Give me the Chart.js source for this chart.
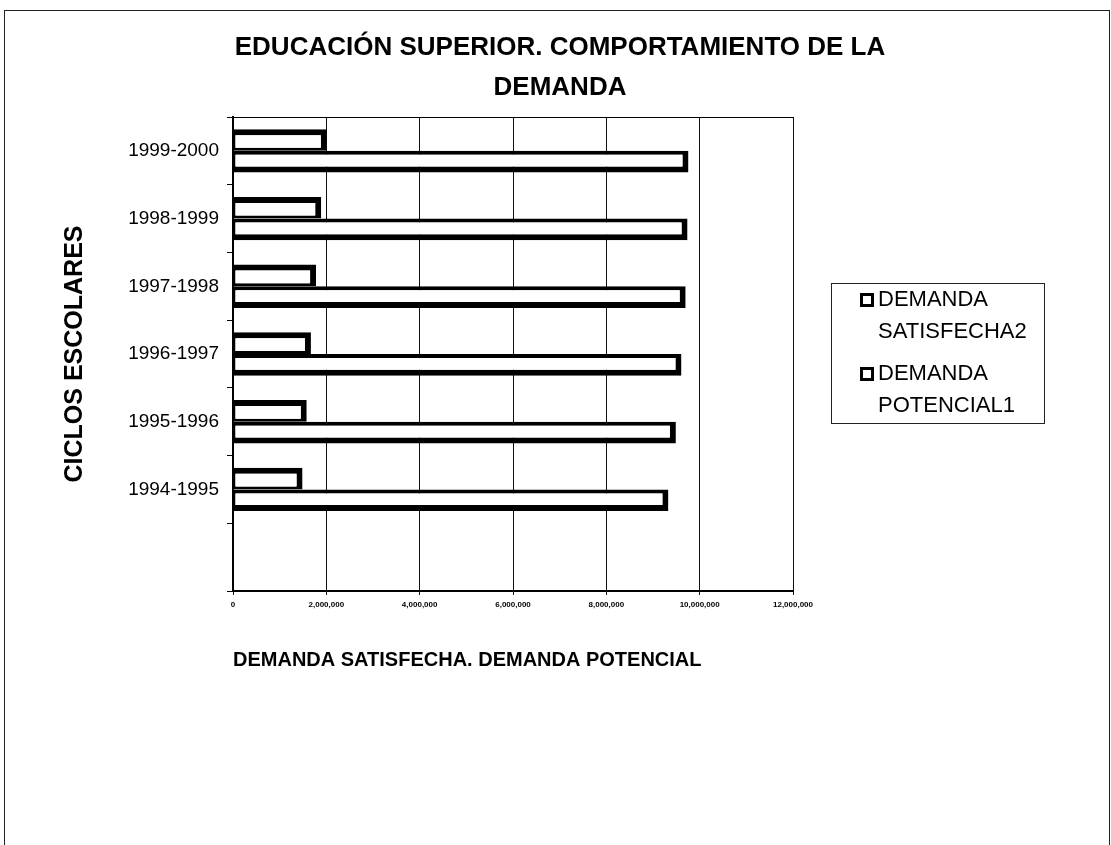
<!DOCTYPE html>
<html>
<head>
<meta charset="utf-8">
<title>Educación superior. Comportamiento de la demanda</title>
<script src="https://cdn.jsdelivr.net/npm/chart.js@4.4.1/dist/chart.umd.min.js"></script>
<style>
  html, body { margin: 0; padding: 0; background: #fff; }
  #wrap { position: relative; width: 1111px; height: 845px; overflow: hidden; }
  #frame {
    position: absolute; left: 4px; top: 10px; width: 1104px; height: 900px;
    border: 1px solid #222; border-bottom: none; pointer-events: none;
  }
  canvas { position: absolute; left: 0; top: 0; }
</style>
</head>
<body>
<div id="wrap">
  <canvas id="chart" width="1111" height="845"></canvas>
  <div id="frame"></div>
</div>
<script>
// values
const ciclos = ['1999-2000', '1998-1999', '1997-1998', '1996-1997', '1995-1996', '1994-1995', ''];
const demandaSatisfecha = [2010000, 1890000, 1780000, 1670000, 1580000, 1490000, null];
const demandaPotencial = [9760000, 9740000, 9700000, 9610000, 9490000, 9330000, null];
const xMax = 12000000;
const xStep = 2000000;

const titleLines = ['EDUCACIÓN SUPERIOR. COMPORTAMIENTO DE LA', 'DEMANDA'];
const legendLines = [['DEMANDA', 'SATISFECHA2'], ['DEMANDA', 'POTENCIAL1']];

const FONT = '"Liberation Sans", Arial, sans-serif';

// title and boxed legend, drawn as in the old spreadsheet chart
const sheetText = {
  id: 'sheetText',
  afterDraw(chart) {
    const ctx = chart.ctx;
    ctx.save();
    ctx.fillStyle = '#000';
    ctx.textBaseline = 'middle';

    ctx.font = 'bold 26px ' + FONT;
    ctx.textAlign = 'center';
    titleLines.forEach((t, i) => ctx.fillText(t, 560, 48 + i * 40));

    // legend box
    ctx.strokeStyle = '#222';
    ctx.lineWidth = 1;
    ctx.strokeRect(831.5, 283.5, 213, 140);
    ctx.font = '22px ' + FONT;
    ctx.textAlign = 'left';
    legendLines.forEach((lines, i) => {
      const y = 300 + i * 74;
      ctx.fillStyle = '#000';
      ctx.fillRect(860, y - 7, 14, 14);
      ctx.fillStyle = '#fff';
      ctx.fillRect(863, y - 4, 8, 8);
      ctx.fillStyle = '#000';
      lines.forEach((l, j) => ctx.fillText(l, 878, y + j * 32));
    });
    ctx.restore();
  }
};

new Chart(document.getElementById('chart'), {
  type: 'bar',
  data: {
    labels: ciclos,
    datasets: [
      {
        label: 'DEMANDA SATISFECHA2',
        data: demandaSatisfecha,
        backgroundColor: '#fff',
        borderColor: '#000',
        borderWidth: { top: 6, right: 6, bottom: 3, left: 2 },
        borderSkipped: false
      },
      {
        label: 'DEMANDA POTENCIAL1',
        data: demandaPotencial,
        backgroundColor: '#fff',
        borderColor: '#000',
        borderWidth: { top: 4, right: 6, bottom: 6, left: 2 },
        borderSkipped: false
      }
    ]
  },
  options: {
    indexAxis: 'y',
    responsive: false,
    animation: false,
    categoryPercentage: 0.64,
    barPercentage: 1,
    layout: { padding: { left: 55, right: 318, top: 117, bottom: 164 } },
    plugins: {
      legend: { display: false },
      title: { display: false },
      tooltip: { enabled: false }
    },
    scales: {
      x: {
        min: 0,
        max: xMax,
        afterFit: s => { s.height = 90; },
        ticks: {
          stepSize: xStep,
          padding: 5,
          color: '#000',
          font: { family: FONT, size: 8, weight: 'bold' },
          maxRotation: 0,
          callback: v => v.toLocaleString('en-US')
        },
        grid: { color: '#111', lineWidth: 1, tickLength: 4 },
        border: { color: '#000', width: 2 },
        title: {
          display: true,
          text: 'DEMANDA SATISFECHA. DEMANDA POTENCIAL',
          align: 'start',
          color: '#000',
          font: { family: FONT, size: 20, weight: 'bold' },
          padding: { top: 0, bottom: 9 }
        }
      },
      xTop: {
        type: 'linear',
        position: 'top',
        min: 0,
        max: xMax,
        afterFit: s => { s.height = 0; },
        ticks: { display: false },
        grid: { display: false },
        border: { color: '#000', width: 1 }
      },
      y: {
        afterFit: s => { s.width = 178; },
        ticks: {
          padding: 8,
          color: '#000',
          font: { family: FONT, size: 19 }
        },
        grid: { drawOnChartArea: false, color: '#000', tickLength: 6 },
        border: { color: '#000', width: 2 },
        title: {
          display: true,
          text: 'CICLOS ESCOLARES',
          color: '#000',
          font: { family: FONT, size: 25, weight: 'bold' },
          padding: { top: 5, bottom: 0 }
        }
      }
    }
  },
  plugins: [sheetText]
});
</script>
</body>
</html>
